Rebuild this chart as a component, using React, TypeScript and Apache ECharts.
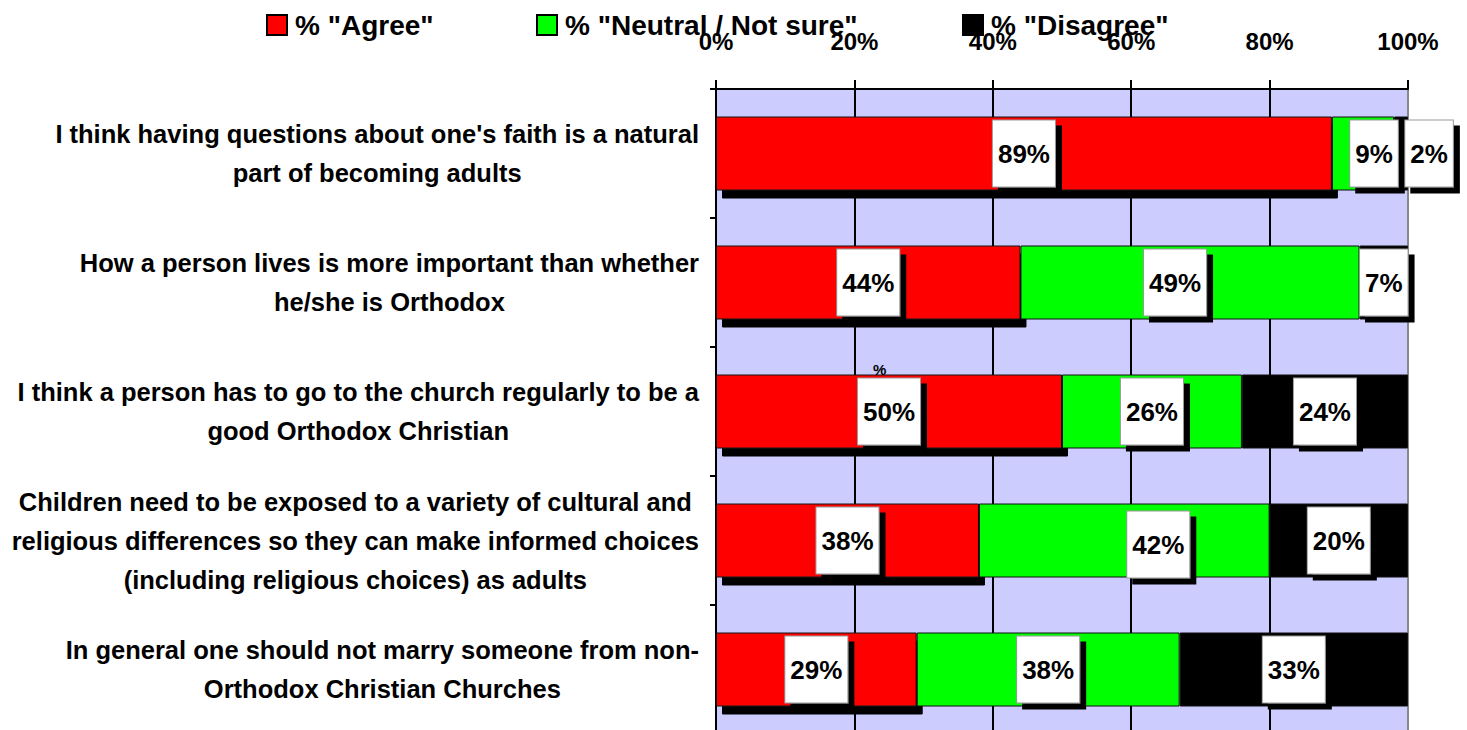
import React, { useEffect, useRef } from "react";
import * as echarts from "echarts";

const categories = [
  "I think having questions about one's faith is a natural\npart of becoming adults",
  "How a person lives is more important than whether\nhe/she is Orthodox",
  "I think a person has to go to the church regularly to be a\ngood Orthodox Christian",
  "Children need to be exposed to a variety of cultural and\nreligious differences so they can make informed choices\n(including religious choices) as adults",
  "In general one should not marry someone from non-\nOrthodox Christian Churches",
];
const seriesNames = ['% "Agree"', '% "Neutral / Not sure"', '% "Disagree"'];
const agree = [89, 44, 50, 38, 29];
const neutral = [9, 49, 26, 42, 38];
const disagree = [2, 7, 24, 20, 33];
const tickValues = [0, 20, 40, 60, 80, 100];

// label nudges (px) for individual labels, [series][row]
const labelNudges: number[][][] = [
  [[0, 0], [0, 0], [0, 0], [0, 0], [0, 0]],
  [[11, 0], [-15, 0], [0, 0], [34, 4], [0, 0]],
  [[28, 0], [0, 0], [0, 0], [0, 0], [0, 0]],
];

const FONT = "'Liberation Sans', Arial, sans-serif";
const CAT_FONT_SIZE = 25.5;

function measure(text: string): number {
  const c = document.createElement("canvas").getContext("2d");
  if (!c) return text.length * 13;
  c.font = `bold ${CAT_FONT_SIZE}px 'Liberation Sans', Arial, sans-serif`;
  return c.measureText(text).width;
}

export default function App() {
  const ref = useRef<HTMLDivElement>(null);
  useEffect(() => {
    if (!ref.current) return;
    const chart = echarts.init(ref.current, null, { renderer: "svg" });
    const colors = ["#FF0000", "#00FF00", "#000000"];
    const values = [agree, neutral, disagree];
    const series = values.map((vals, si) => ({
      name: seriesNames[si],
      type: "bar",
      stack: "total",
      barWidth: 74,
      itemStyle: {
        color: colors[si],
        borderColor: "#111",
        borderWidth: 1,
        ...(si === 0
          ? { shadowColor: "#000", shadowOffsetX: 6, shadowOffsetY: 8, shadowBlur: 0 }
          : {}),
      },
      label: {
        show: true,
        position: "inside",
        formatter: "{c}%",
        color: "#000",
        fontFamily: FONT,
        fontSize: 26,
        fontWeight: "bold",
        lineHeight: 26,
        backgroundColor: "#fff",
        padding: [20, 5],
        borderColor: "#999",
        borderWidth: 1,
        shadowColor: "#000",
        shadowOffsetX: 6,
        shadowOffsetY: 6,
        shadowBlur: 0,
      },
      data: vals.map((v, i) => ({
        value: v,
        label: { offset: labelNudges[si][i] },
      })),
    }));

    const rich: Record<string, any> = {};
    categories.forEach((cat, i) => {
      const w = Math.max(...cat.split("\n").map(measure)) + 2;
      rich["c" + i] = {
        width: w,
        align: "center",
        fontFamily: FONT,
        fontSize: CAT_FONT_SIZE,
        fontWeight: "bold",
        color: "#000",
        lineHeight: 39,
      };
    });

    const legendLefts = [261, 531, 957];
    chart.setOption({
      animation: false,
      backgroundColor: "#fff",
      textStyle: { fontFamily: FONT },
      legend: seriesNames.map((n, i) => ({
        data: [n],
        left: legendLefts[i],
        top: 6,
        itemWidth: 20,
        itemHeight: 20,
        icon: "rect",
        itemStyle: { borderColor: "#000", borderWidth: 2 },
        textStyle: {
          fontFamily: FONT,
          fontSize: 28,
          fontWeight: "bold",
          color: "#000",
          padding: [0, 0, 0, 3],
        },
      })),
      grid: {
        left: 716,
        right: 59,
        top: 89,
        height: 645,
        show: true,
        backgroundColor: "#CCCCFF",
        borderWidth: 0,
        containLabel: false,
        outerBoundsMode: "none",
      },
      xAxis: {
        type: "value",
        position: "top",
        min: tickValues[0],
        max: tickValues[tickValues.length - 1],
        interval: 20,
        axisLine: { show: true, lineStyle: { color: "#000", width: 2 } },
        axisTick: { show: true, length: 9, lineStyle: { color: "#000", width: 2 } },
        axisLabel: {
          formatter: "{value}%",
          margin: 36,
          color: "#000",
          fontFamily: FONT,
          fontSize: 24,
          fontWeight: "bold",
        },
        splitLine: {
          show: true,
          lineStyle: { color: ["#000", "#000", "#000", "#000", "#000", "#888"], width: 2 },
        },
      },
      yAxis: {
        type: "category",
        inverse: true,
        data: categories,
        axisLine: { show: true, lineStyle: { color: "#000", width: 2 } },
        axisTick: { show: true, length: 6, lineStyle: { color: "#000", width: 2 } },
        axisLabel: {
          margin: 16,
          color: "#000",
          fontFamily: FONT,
          fontSize: CAT_FONT_SIZE,
          fontWeight: "bold",
          lineHeight: 39,
          align: "right",
          formatter: (value: string, index: number) =>
            value
              .split("\n")
              .map((l) => `{c${index}|${l}}`)
              .join("\n"),
          rich,
        },
      },
      graphic: [
        {
          type: "text",
          left: 873,
          top: 362,
          style: {
            text: "%",
            fontFamily: FONT,
            fontSize: 15,
            fontWeight: "bold",
            fill: "#000",
          },
          z: 100,
        },
      ],
      series,
    });
    return () => chart.dispose();
  }, []);
  return (
    <div
      ref={ref}
      style={{ position: "fixed", left: 0, top: 0, width: 1467, height: 730 }}
    />
  );
}
